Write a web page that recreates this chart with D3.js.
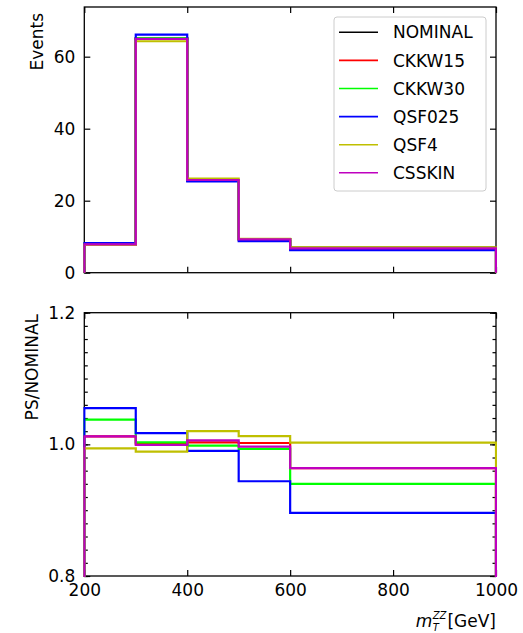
<!DOCTYPE html>
<html>
<head>
<meta charset="utf-8">
<script src="https://cdn.jsdelivr.net/npm/d3@7"></script>
<style>
  html, body { margin: 0; padding: 0; background: #fff; }
  svg { display: block; font-family: "DejaVu Sans", sans-serif; }
</style>
</head>
<body>
<svg id="chart" width="523" height="633"></svg>
<script>
// Bin edges of the transverse ZZ mass histogram [GeV]
const binEdges = [200, 300, 400, 500, 600, 1000];

// Event yields per bin for each parton-shower setting
const seriesNames = ["NOMINAL", "CKKW15", "CKKW30", "QSF025", "QSF4", "CSSKIN"];
const seriesColors = ["#000000", "#ff0000", "#00ff00", "#0000ff", "#bfbf00", "#bf00bf"];
const nominal = [7.800, 65.000, 25.600, 9.300, 7.000];
const ckkw15  = [7.894, 65.065, 25.677, 9.319, 6.748];
const ckkw30  = [8.093, 65.195, 25.549, 9.235, 6.580];
const qsf025  = [8.229, 66.105, 25.344, 8.779, 6.272];
const qsf4    = [7.753, 64.285, 26.112, 9.417, 7.018];
const csskin  = [7.894, 64.935, 25.754, 9.267, 6.748];
const seriesValues = [nominal, ckkw15, ckkw30, qsf025, qsf4, csskin];

// Tick values
const xTicks = [200, 400, 600, 800, 1000];
const eventTicks = [0, 20, 40, 60];
const ratioTicks = [0.8, 1.0, 1.2];
const ratioMinorTicks = d3.range(0, 21).map(i => +(0.8 + i * 0.02).toFixed(2));

const svg = d3.select("#chart");
const FONT = 17;

const x = d3.scaleLinear().domain([200, 1000]).range([84.3, 496]);
const yTop = d3.scaleLinear().domain([0, 73.8]).range([272.7, 7]);
const yRat = d3.scaleLinear().domain([0.8, 1.2]).range([576, 312.7]);

const defs = svg.append("defs");
function clip(id, y) {
  defs.append("clipPath").attr("id", id).append("rect")
    .attr("x", x.range()[0] - 1).attr("y", y.range()[1])
    .attr("width", x.range()[1] - x.range()[0] + 2)
    .attr("height", y.range()[0] - y.range()[1] + 1);
}
clip("clipTop", yTop);
clip("clipRat", yRat);

// Step outline: rises from the baseline at the first edge, falls back at the last
function stepPath(vals, y, base) {
  const pts = [[binEdges[0], base]];
  vals.forEach((v, i) => pts.push([binEdges[i], v]));
  pts.push([binEdges[binEdges.length - 1], vals[vals.length - 1]]);
  pts.push([binEdges[binEdges.length - 1], base]);
  return d3.line().x(d => x(d[0])).y(d => y(d[1])).curve(d3.curveStepAfter)(pts);
}

function drawAxes(g, y, yTickVals, yFmt, showX, minor) {
  const [x0, x1] = x.range();
  const [yb, yt] = y.range();
  // bottom & top x ticks (inward)
  g.append("g").attr("transform", `translate(0,${yb})`)
    .call(d3.axisBottom(x).tickValues(xTicks).tickSize(-6).tickPadding(8)
      .tickFormat(showX ? d3.format("d") : () => ""))
    .call(a => a.select(".domain").remove());
  g.append("g").attr("transform", `translate(0,${yt})`)
    .call(d3.axisTop(x).tickValues(xTicks).tickSize(-6).tickFormat(() => ""))
    .call(a => a.select(".domain").remove());
  // left & right y ticks
  g.append("g").attr("transform", `translate(${x0},0)`)
    .call(d3.axisLeft(y).tickValues(yTickVals).tickSize(-6).tickPadding(9).tickFormat(yFmt))
    .call(a => a.select(".domain").remove());
  g.append("g").attr("transform", `translate(${x1},0)`)
    .call(d3.axisRight(y).tickValues(yTickVals).tickSize(-6).tickFormat(() => ""))
    .call(a => a.select(".domain").remove());
  if (minor) {
    g.append("g").attr("transform", `translate(${x0},0)`)
      .call(d3.axisLeft(y).tickValues(minor).tickSize(-3.5).tickFormat(() => ""))
      .call(a => a.select(".domain").remove());
    g.append("g").attr("transform", `translate(${x1},0)`)
      .call(d3.axisRight(y).tickValues(minor).tickSize(-3.5).tickFormat(() => ""))
      .call(a => a.select(".domain").remove());
  }
  g.selectAll(".tick line").attr("stroke", "#000").attr("stroke-width", 1.2);
  g.selectAll(".tick text").attr("font-size", FONT).attr("fill", "#000")
    .attr("font-family", "DejaVu Sans, sans-serif");
  g.append("rect").attr("x", x0).attr("y", yt).attr("width", x1 - x0).attr("height", yb - yt)
    .attr("fill", "none").attr("stroke", "#000").attr("stroke-width", 1.3);
}

// ---- Upper panel: event yields ----
const gTop = svg.append("g");
drawAxes(gTop, yTop, eventTicks, d3.format("d"), false, null);
gTop.append("g").attr("clip-path", "url(#clipTop)")
  .selectAll("path").data(seriesValues).join("path")
  .attr("d", v => stepPath(v, yTop, 0))
  .attr("fill", "none")
  .attr("stroke", (v, i) => seriesColors[i])
  .attr("stroke-width", 2.2);

// ---- Lower panel: ratio to nominal ----
const ratios = seriesValues.map(v => v.map((c, i) => c / nominal[i]));
const gRat = svg.append("g");
drawAxes(gRat, yRat, ratioTicks, d3.format(".1f"), true, ratioMinorTicks);
gRat.append("g").attr("clip-path", "url(#clipRat)")
  .selectAll("path").data(ratios.slice(1)).join("path")
  .attr("d", v => stepPath(v, yRat, 0))
  .attr("fill", "none")
  .attr("stroke", (v, i) => seriesColors[i + 1])
  .attr("stroke-width", 2.2);

// ---- Axis titles ----
svg.append("text")
  .attr("transform", "translate(43,13) rotate(-90)")
  .attr("text-anchor", "end").attr("font-size", FONT).text("Events");
svg.append("text")
  .attr("transform", "translate(38,314) rotate(-90)")
  .attr("text-anchor", "end").attr("font-size", FONT).text("PS/NOMINAL");

// m_T^{ZZ}[GeV] as a single text, sub/superscript stacked via tspans
function measure(str, size, italic) {
  const t = svg.append("text").attr("font-size", size)
    .attr("font-style", italic ? "italic" : "normal").text(str);
  const w = t.node().getComputedTextLength();
  t.remove();
  return w;
}
const SCRIPT = 10;
const wZZ = measure("ZZ", SCRIPT, true);
const wT = measure("T", SCRIPT, true);
const scriptW = Math.max(wZZ, wT);
const xLabel = svg.append("text").attr("x", 496).attr("y", 627)
  .attr("text-anchor", "end").attr("font-size", FONT);
xLabel.append("tspan").attr("font-style", "italic").text("m");
xLabel.append("tspan").attr("font-style", "italic").attr("font-size", SCRIPT)
  .attr("dx", 0.5).attr("dy", -8).text("ZZ");
xLabel.append("tspan").attr("font-style", "italic").attr("font-size", SCRIPT)
  .attr("dx", -wZZ).attr("dy", 12).text("T");
xLabel.append("tspan").attr("dx", scriptW - wT + 1).attr("dy", -4).text("[GeV]");

// ---- Legend ----
const leg = svg.append("g");
leg.append("rect").attr("x", 334).attr("y", 17).attr("width", 152).attr("height", 174)
  .attr("rx", 3).attr("fill", "#fff").attr("fill-opacity", 0.8)
  .attr("stroke", "#cccccc").attr("stroke-width", 1);
seriesNames.forEach((name, i) => {
  const cy = 32.3 + i * 28.1;
  leg.append("line").attr("x1", 339).attr("x2", 378).attr("y1", cy).attr("y2", cy)
    .attr("stroke", seriesColors[i]).attr("stroke-width", 1.6);
  leg.append("text").attr("x", 393).attr("y", cy).attr("dy", "0.36em")
    .attr("font-size", FONT).attr("fill", "#000").text(name);
});
</script>
</body>
</html>
